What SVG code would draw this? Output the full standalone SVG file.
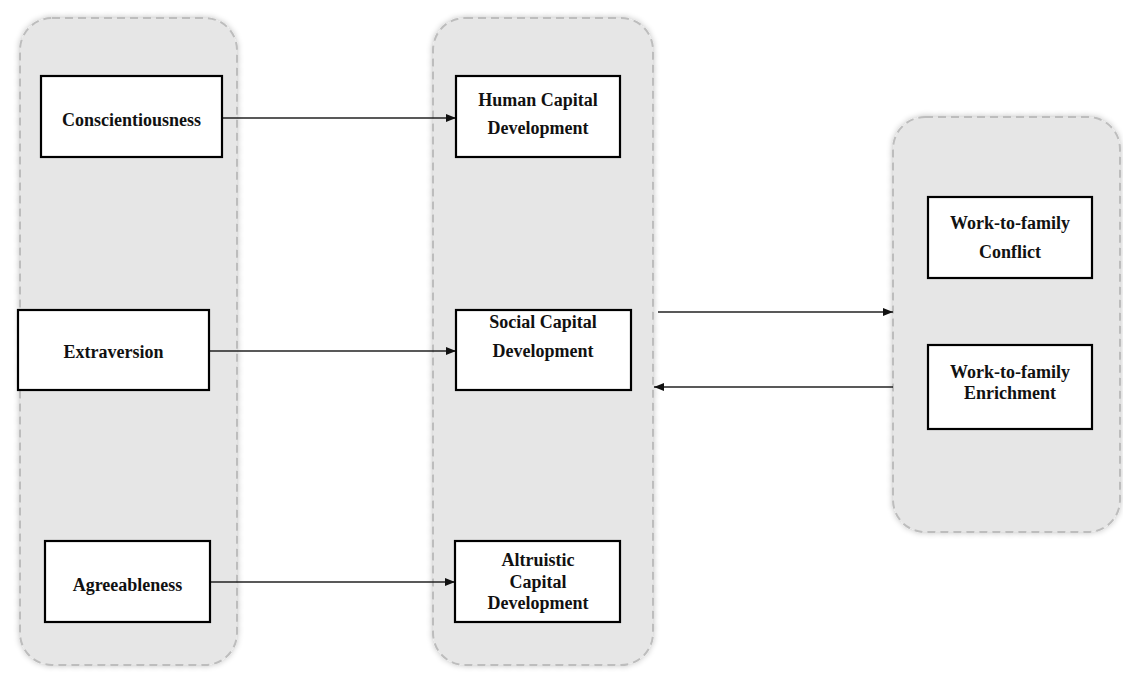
<svg xmlns="http://www.w3.org/2000/svg" width="1123" height="673" viewBox="0 0 1123 673">
<style>
.grp{fill:#e6e6e6;stroke:#bdbdbd;stroke-width:2;stroke-dasharray:8 5;}
.box{fill:#fff;stroke:#000;stroke-width:2.2;}
.lbl{font-family:"Liberation Serif","DejaVu Serif","Times New Roman",serif;font-weight:bold;font-size:18px;fill:#111;text-anchor:middle;}
.con{stroke:#222;stroke-width:1.3;fill:none;marker-end:url(#ah);}
</style>
<defs>
<marker id="ah" viewBox="0 0 10 10" refX="10" refY="5" markerWidth="10" markerHeight="10" markerUnits="userSpaceOnUse" orient="auto">
<path d="M0,1 L10,5 L0,9 Z" fill="#111"/>
</marker>
<filter id="sh" x="-10%" y="-10%" width="120%" height="120%">
<feGaussianBlur in="SourceAlpha" stdDeviation="3"/>
<feComponentTransfer><feFuncA type="linear" slope="0.25"/></feComponentTransfer>
<feMerge><feMergeNode/><feMergeNode in="SourceGraphic"/></feMerge>
</filter>
</defs>
<rect width="1123" height="673" fill="#fff"/>
<g id="containers" filter="url(#sh)">
<rect id="group-traits" class="grp" x="20" y="18" width="217" height="647" rx="32"/>
<rect id="group-capital" class="grp" x="433" y="18" width="220" height="647" rx="32"/>
<rect id="group-outcomes" class="grp" x="893" y="117" width="227" height="415" rx="32"/>
</g>
<g id="connectors">
<line class="con" x1="222" y1="118" x2="456" y2="118"/>
<line class="con" x1="209" y1="351" x2="456" y2="351"/>
<line class="con" x1="210" y1="582" x2="455" y2="582"/>
<line class="con" x1="658" y1="312" x2="893" y2="312"/>
<line class="con" x1="893" y1="387" x2="654" y2="387"/>
</g>
<g id="conscientiousness">
<rect class="box" x="41" y="76" width="181" height="81"/>
<text class="lbl" x="131.5" y="126">Conscientiousness</text>
</g>
<g id="extraversion">
<rect class="box" x="18" y="310" width="191" height="80"/>
<text class="lbl" x="113.5" y="358">Extraversion</text>
</g>
<g id="agreeableness">
<rect class="box" x="45" y="541" width="165" height="81"/>
<text class="lbl" x="127.5" y="591">Agreeableness</text>
</g>
<g id="human-capital">
<rect class="box" x="456" y="76" width="164" height="81"/>
<text class="lbl" x="538" y="106">Human Capital</text>
<text class="lbl" x="538" y="134">Development</text>
</g>
<g id="social-capital">
<rect class="box" x="456" y="310" width="175" height="80"/>
<text class="lbl" x="543" y="328">Social Capital</text>
<text class="lbl" x="543" y="357">Development</text>
</g>
<g id="altruistic-capital">
<rect class="box" x="455" y="541" width="165" height="81"/>
<text class="lbl" x="538" y="566">Altruistic</text>
<text class="lbl" x="538" y="588">Capital</text>
<text class="lbl" x="538" y="609">Development</text>
</g>
<g id="wf-conflict">
<rect class="box" x="928" y="197" width="164" height="81"/>
<text class="lbl" x="1010" y="229">Work-to-family</text>
<text class="lbl" x="1010" y="258">Conflict</text>
</g>
<g id="wf-enrichment">
<rect class="box" x="928" y="345" width="164" height="84"/>
<text class="lbl" x="1010" y="378">Work-to-family</text>
<text class="lbl" x="1010" y="399">Enrichment</text>
</g>
</svg>
